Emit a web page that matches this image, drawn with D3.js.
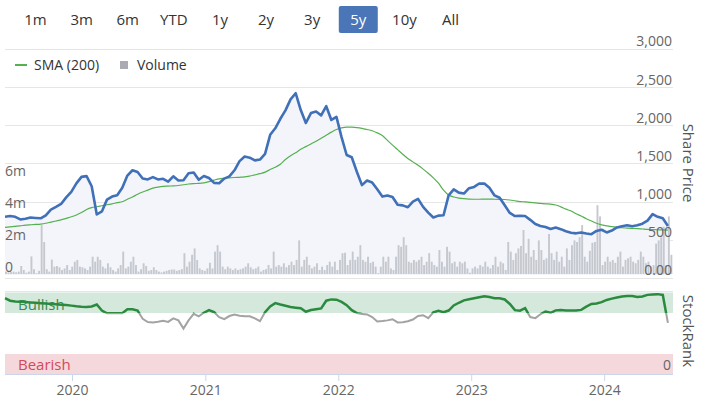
<!DOCTYPE html>
<html>
<head>
<meta charset="utf-8">
<script src="https://cdn.jsdelivr.net/npm/d3@7"></script>
<style>
  body { margin: 0; background: #fff; font-family: "Open Sans", sans-serif; }
  text { font-family: "Open Sans", sans-serif; }
</style>
</head>
<body>
<div id="chart"></div>
<script>
// range selector buttons
var rangeButtons = ["1m", "3m", "6m", "YTD", "1y", "2y", "3y", "5y", "10y", "All"];
var selectedRange = "5y";

// first data point, price / sma / rank are every 2 weeks, volume every week
var firstDate = new Date(2019, 6, 1);
var axisDomain = [new Date(2019, 6, 1), new Date(2024, 6, 8)];

// share price (2 week steps)
var priceValues = [
  800, 810, 800, 765, 775, 790, 785, 780, 820, 895,
  930, 968, 1055, 1127, 1238, 1323, 1333, 1200, 830, 870,
  1025, 1065, 1083, 1180, 1340, 1410, 1388, 1301, 1290, 1320,
  1290, 1298, 1260, 1330, 1275, 1280, 1370, 1380, 1285, 1335,
  1308, 1245, 1240, 1301, 1330, 1410, 1530, 1590, 1575, 1540,
  1550, 1625, 1875, 1960, 2085, 2195, 2340, 2420, 2200, 2030,
  2160, 2180, 2130, 2250, 2070, 2110, 1845, 1610, 1580, 1390,
  1215, 1275, 1250, 1160, 1065, 1080, 1060, 958, 950, 925,
  1000, 1035, 930, 855, 790, 815, 820, 1080, 1160, 1117,
  1105, 1175, 1192, 1236, 1235, 1180, 1080, 1050, 950, 850,
  810, 812, 810, 760, 705, 680, 665, 640, 658, 638,
  610, 590, 583, 594, 580, 572, 615, 630, 595, 620,
  660, 676, 688, 675, 688, 710, 750, 835, 800, 780,
  680
];

// 200 day moving average
var smaValues = [
  660, 668, 675, 682, 690, 695, 700, 705, 715, 730,
  745, 760, 780, 800, 823, 855, 895, 920, 932, 945,
  958, 970, 985, 997, 1030, 1060, 1095, 1125, 1150, 1175,
  1190, 1200, 1203, 1205, 1210, 1220, 1230, 1235, 1238, 1245,
  1260, 1280, 1298, 1305, 1310, 1315, 1318, 1323, 1335, 1350,
  1365, 1385, 1420, 1450, 1490, 1550, 1600, 1640, 1685, 1720,
  1755, 1790, 1830, 1870, 1910, 1945, 1965, 1975, 1975, 1970,
  1960, 1945, 1928, 1900, 1865, 1802, 1740, 1680, 1620, 1565,
  1520, 1475, 1425, 1370, 1310, 1240, 1150, 1085, 1060, 1045,
  1037, 1032, 1030, 1030, 1031, 1031, 1030, 1029, 1027, 1020,
  1010, 1000, 995, 988, 982, 975, 970, 966, 955, 930,
  900, 875, 840, 810, 775, 745, 715, 695, 680, 670,
  662, 656, 652, 648, 645, 640, 635, 632, 630, 628,
  625
];

// StockRank (0-100)
var rankValues = [
  93, 90, 89, 88.8, 88.3, 87.8, 87.4, 87, 86.5, 86,
  85.6, 85.2, 84.8, 84, 83.2, 82.6, 82.2, 83, 85.4, 78,
  74.6, 74.6, 74.6, 74.8, 79.5, 79.5, 78, 68, 64, 63.5,
  64.4, 65.5, 64.2, 68.5, 66, 56, 66, 74, 71, 75.3,
  78.6, 76, 70, 67.5, 71.3, 73.2, 71.6, 71, 71, 68.5,
  65, 76, 83, 87, 85.3, 83.8, 82.3, 81.5, 80.8, 76.5,
  78.7, 79.7, 80.6, 90, 91.6, 91.2, 88.5, 84.5, 78.5, 74.8,
  73.8, 73.3, 70, 64.6, 65.2, 66, 67.4, 63.5, 63.8, 64.9,
  67, 71.4, 72.3, 68.7, 75.8, 77.8, 75.9, 78, 84.2, 87.5,
  90.4, 91.7, 93, 94.2, 95.3, 94.4, 93, 93, 91.5, 86,
  78.5, 77.8, 81, 70, 68.7, 73.5, 76.6, 75.2, 78.2, 78.6,
  78.1, 78, 78, 78.8, 82.7, 86.1, 86.6, 88.3, 90.9, 92.5,
  94, 95.2, 95.7, 95.6, 94.5, 95.2, 97.1, 97.6, 98, 97,
  63
];

// weekly volume, millions
var volumeValues = [
  0.15, 0.1, 0.12, 0.15, 0.1, 0.15, 0.5, 0.25, 0.08, 0.15,
  1.1, 0.3, 0.05, 0.2, 3.06, 2.0, 0.3, 0.15, 0.9, 0.46,
  0.5, 0.42, 0.25, 0.35, 0.56, 0.25, 0.46, 0.77, 0.88, 0.46,
  0.42, 0.35, 0.25, 0.46, 1.08, 0.77, 1.08, 0.88, 0.46, 0.35,
  0.67, 0.42, 0.25, 0.15, 0.35, 0.56, 1.4, 0.35, 0.46, 0.77,
  1.08, 0.56, 0.15, 0.3, 0.67, 0.5, 0.2, 0.25, 0.42, 0.25,
  0.15, 0.1, 0.15, 0.2, 0.25, 0.28, 0.28, 0.2, 0.25, 0.3,
  1.3, 0.46, 0.77, 1.2, 1.6, 0.88, 0.35, 0.25, 0.2, 0.35,
  0.7, 0.35, 1.4, 1.8, 1.4, 0.46, 0.3, 0.46, 0.35, 0.25,
  0.35, 0.25, 0.3, 0.35, 0.46, 0.67, 0.42, 0.3, 0.35, 0.46,
  0.15, 0.25, 0.3, 0.56, 0.35, 1.4, 0.46, 0.56, 0.46, 0.67,
  0.42, 0.56, 0.77, 0.56, 0.88, 2.1, 0.46, 0.88, 1.08, 0.56,
  0.35, 0.46, 0.67, 0.25, 0.46, 0.25, 0.56, 0.77, 0.46, 0.77,
  0.25, 0.88, 1.3, 1.33, 0.56, 0.88, 1.4, 0.88, 1.08, 1.8,
  0.88, 0.77, 1.08, 0.7, 0.77, 0.46, 0.05, 0.46, 1.08, 0.77,
  1.08, 0.35, 0.25, 1.08, 1.8, 1.7, 2.3, 1.8, 0.77, 0.7,
  0.88, 0.77, 0.88, 1.08, 0.56, 0.77, 1.3, 0.77, 0.56, 0.46,
  1.5, 0.77, 0.46, 1.7, 1.4, 0.67, 0.77, 0.46, 0.77, 0.67,
  0.77, 0.35, 0.08, 0.35, 0.46, 0.35, 0.56, 0.46, 0.77, 0.46,
  0.35, 0.56, 1.08, 0.46, 0.77, 0.67, 0.25, 2.0, 1.4, 0.88,
  1.3, 1.6, 1.75, 2.75, 1.3, 2.2, 1.08, 1.5, 0.88, 2.1,
  1.5, 0.88, 0.98, 2.5, 1.3, 0.88, 1.4, 0.77, 1.08, 0.46,
  1.6, 0.88, 1.8, 2.1, 2.0, 2.3, 3.06, 1.08, 0.77, 1.45,
  1.95, 2.0, 4.3, 3.6, 0.56, 0.77, 1.08, 0.77, 0.88, 0.7,
  1.08, 1.4, 0.46, 0.88, 0.98, 1.08, 0.77, 0.67, 0.88, 1.4,
  1.08, 0.67, 0.77, 0.46, 0.56, 1.9, 2.1, 2.3, 2.95, 0.56,
  3.6, 1.2
];

var priceTicks = [0, 500, 1000, 1500, 2000, 2500, 3000];
var volumeTicks = [0, 2, 4, 6];
var yearTicks = [2020, 2021, 2022, 2023, 2024];
var bullishLevel = 75, bearishLevel = 25;

var width = 704, height = 398;
var plotLeft = 5, plotRight = 673;

var svg = d3.select("#chart").append("svg")
    .attr("width", width)
    .attr("height", height);

// scales
var x = d3.scaleTime().domain(axisDomain).range([plotLeft, plotRight]);
var yPrice = d3.scaleLinear().domain([0, 3000]).range([277.8, 49]);
var yVol = d3.scaleLinear().domain([0, 6]).range([274, 178]);
var yRank = d3.scaleLinear().domain([0, 100]).range([374.5, 292.5]);

var twoWeekly = priceValues.map(function(d, i) { return d3.timeDay.offset(firstDate, i * 14); });
var weekly = volumeValues.map(function(d, i) { return d3.timeDay.offset(firstDate, i * 7); });

// range selector
var btnX = d3.scalePoint().domain(rangeButtons).range([35.5, 450.5]);
var btns = svg.append("g").selectAll("g")
    .data(rangeButtons)
  .enter().append("g")
    .attr("transform", function(d) { return "translate(" + btnX(d) + ",20)"; });
btns.filter(function(d) { return d === selectedRange; })
  .append("rect")
    .attr("x", -19.5).attr("y", -14).attr("width", 39).attr("height", 27)
    .attr("rx", 2).attr("fill", "#4a76b8");
btns.append("text")
    .attr("text-anchor", "middle")
    .attr("dy", "0.35em")
    .style("font-size", "15px")
    .attr("fill", function(d) { return d === selectedRange ? "#fff" : "#333"; })
    .text(function(d) { return d; });

// grid lines
svg.append("g").selectAll("line")
    .data(priceTicks)
  .enter().append("line")
    .attr("x1", plotLeft).attr("x2", plotRight)
    .attr("y1", function(d) { return Math.round(yPrice(d)) + 0.5; })
    .attr("y2", function(d) { return Math.round(yPrice(d)) + 0.5; })
    .attr("stroke", "#e6e6e6");

var clip = svg.append("defs");
clip.append("clipPath").attr("id", "plotClip")
  .append("rect").attr("x", plotLeft).attr("y", 49).attr("width", plotRight - plotLeft).attr("height", 226);
clip.append("clipPath").attr("id", "bullClip")
  .append("rect").attr("x", 0).attr("y", 280).attr("width", width).attr("height", yRank(bullishLevel) - 280);
clip.append("clipPath").attr("id", "bearClip")
  .append("rect").attr("x", 0).attr("y", yRank(bullishLevel)).attr("width", width).attr("height", 100);

var plot = svg.append("g").attr("clip-path", "url(#plotClip)");

// price area fill
var area = d3.area()
    .x(function(d, i) { return x(twoWeekly[i]); })
    .y0(yPrice(0))
    .y1(function(d) { return yPrice(d); });
plot.append("path")
    .datum(priceValues)
    .attr("d", area)
    .attr("fill", "#f3f5fa");

// volume bars
plot.selectAll(".vol")
    .data(volumeValues)
  .enter().append("rect")
    .attr("class", "vol")
    .attr("x", function(d, i) { return x(weekly[i]); })
    .attr("width", 1.9)
    .attr("y", function(d) { return yVol(d); })
    .attr("height", function(d) { return yVol(0) - yVol(d); })
    .attr("fill", "#c6c8cf");

// sma
var smaLine = d3.line()
    .x(function(d, i) { return x(twoWeekly[i]); })
    .y(function(d) { return yPrice(d); })
    .curve(d3.curveMonotoneX);
plot.append("path")
    .datum(smaValues)
    .attr("d", smaLine)
    .attr("fill", "none")
    .attr("stroke", "#55b04f")
    .attr("stroke-width", 1.2);

// price line
var priceLine = d3.line()
    .x(function(d, i) { return x(twoWeekly[i]); })
    .y(function(d) { return yPrice(d); });
plot.append("path")
    .datum(priceValues)
    .attr("d", priceLine)
    .attr("fill", "none")
    .attr("stroke", "#4070b8")
    .attr("stroke-width", 2.6)
    .attr("stroke-linejoin", "round");

// price labels on the right
svg.append("g").selectAll("text")
    .data(priceTicks)
  .enter().append("text")
    .attr("x", 672)
    .attr("y", function(d) { return yPrice(d) - 7.5; })
    .attr("dy", "0.35em")
    .attr("text-anchor", "end")
    .style("font-size", "14px")
    .attr("fill", "#666")
    .text(function(d) { return d === 0 ? "0.00" : d3.format(",")(d); });

// volume labels on the left
svg.append("g").selectAll("text")
    .data(volumeTicks)
  .enter().append("text")
    .attr("x", 5)
    .attr("y", function(d) { return yVol(d) - 7; })
    .attr("dy", "0.35em")
    .style("font-size", "14px")
    .attr("fill", "#666")
    .text(function(d) { return d === 0 ? "0" : d + "m"; });

// legend
var legend = svg.append("g");
legend.append("line")
    .attr("x1", 15).attr("x2", 27).attr("y1", 65).attr("y2", 65)
    .attr("stroke", "#55b04f").attr("stroke-width", 2);
legend.append("text")
    .attr("x", 34).attr("y", 65).attr("dy", "0.35em")
    .style("font-size", "14px").attr("fill", "#333")
    .text("SMA (200)");
legend.append("rect")
    .attr("x", 120).attr("y", 61).attr("width", 8).attr("height", 8)
    .attr("fill", "#a9aab2");
legend.append("text")
    .attr("x", 137).attr("y", 65).attr("dy", "0.35em")
    .style("font-size", "14px").attr("fill", "#333")
    .text("Volume");

// StockRank panel
svg.append("line")
    .attr("x1", plotLeft).attr("x2", plotRight).attr("y1", 291.5).attr("y2", 291.5)
    .attr("stroke", "#e6e6e6");
svg.append("rect")
    .attr("x", plotLeft).attr("width", plotRight - plotLeft)
    .attr("y", yRank(100)).attr("height", yRank(bullishLevel) - yRank(100))
    .attr("fill", "#d4e8dc");
svg.append("rect")
    .attr("x", plotLeft).attr("width", plotRight - plotLeft)
    .attr("y", yRank(bearishLevel)).attr("height", yRank(0) - yRank(bearishLevel))
    .attr("fill", "#f5d8db");
svg.append("text")
    .attr("x", 18).attr("y", 305).attr("dy", "0.35em")
    .style("font-size", "15px").attr("fill", "#3b8a50")
    .text("Bullish");
svg.append("text")
    .attr("x", 18).attr("y", 365).attr("dy", "0.35em")
    .style("font-size", "15px").attr("fill", "#d4495a")
    .text("Bearish");
svg.append("text")
    .attr("x", 671).attr("y", 365).attr("dy", "0.35em")
    .attr("text-anchor", "end")
    .style("font-size", "14px").attr("fill", "#666")
    .text("0");

var rankLine = d3.line()
    .x(function(d, i) { return x(twoWeekly[i]); })
    .y(function(d) { return yRank(d); });
svg.append("path")
    .datum(rankValues)
    .attr("clip-path", "url(#bearClip)")
    .attr("d", rankLine)
    .attr("fill", "none")
    .attr("stroke", "#a3a3a3")
    .attr("stroke-width", 2);
svg.append("path")
    .datum(rankValues)
    .attr("clip-path", "url(#bullClip)")
    .attr("d", rankLine)
    .attr("fill", "none")
    .attr("stroke", "#2a8a3e")
    .attr("stroke-width", 2.5);

// x axis
var xAxis = d3.axisBottom(x)
    .tickValues(yearTicks.map(function(y) { return new Date(y, 0, 1); }))
    .tickFormat(d3.timeFormat("%Y"))
    .tickSize(7)
    .tickPadding(4);
var gx = svg.append("g")
    .attr("transform", "translate(0,374)")
    .call(xAxis);
gx.select(".domain").attr("stroke", "#ccd6eb").attr("d", "M" + plotLeft + ",0.5H" + plotRight);
gx.selectAll(".tick line").attr("stroke", "#ccd6eb");
gx.selectAll(".tick text")
    .style("font-size", "14px")
    .style("font-family", "'Open Sans', sans-serif")
    .attr("fill", "#666");

// axis titles on the right
svg.append("text")
    .attr("transform", "translate(688,163) rotate(90)")
    .attr("text-anchor", "middle").attr("dy", "0.35em")
    .style("font-size", "15px").attr("fill", "#555")
    .text("Share Price");
svg.append("text")
    .attr("transform", "translate(688,331) rotate(90)")
    .attr("text-anchor", "middle").attr("dy", "0.35em")
    .style("font-size", "15px").attr("fill", "#555")
    .text("StockRank");
</script>
</body>
</html>
